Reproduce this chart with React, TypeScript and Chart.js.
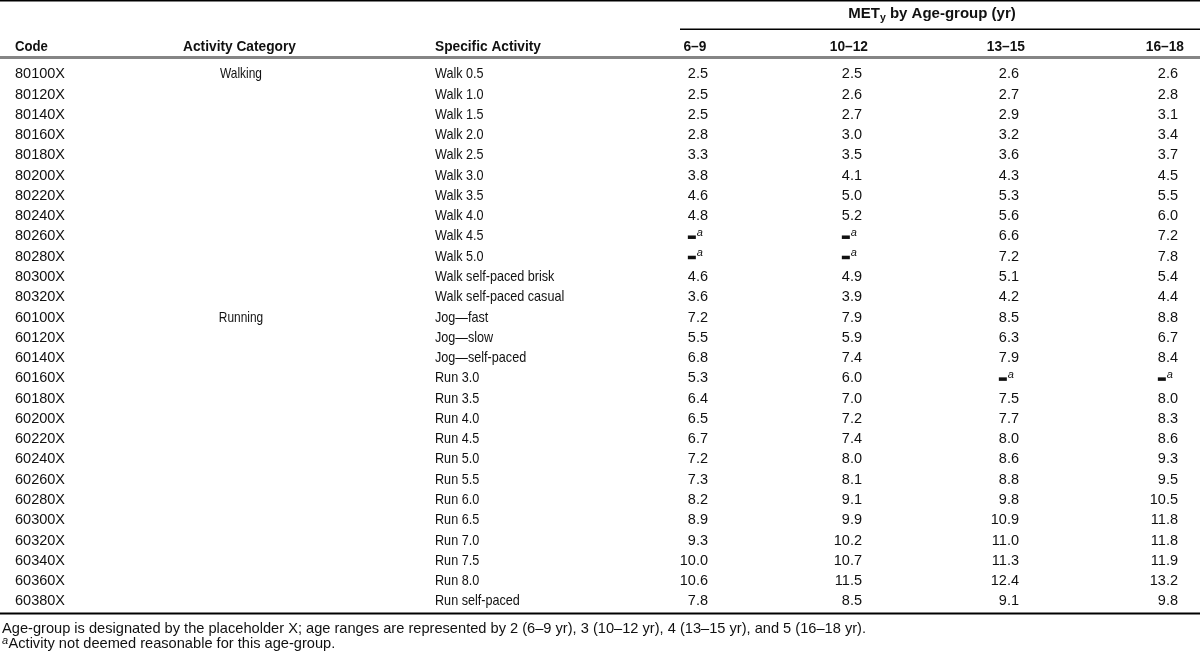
import { useEffect, useRef } from "react";
import { Chart, registerables } from "chart.js";

Chart.register(...registerables);

// ---- data ----
const codes = [
  "80100X", "80120X", "80140X", "80160X", "80180X", "80200X", "80220X", "80240X", "80260X",
  "80280X", "80300X", "80320X", "60100X", "60120X", "60140X", "60160X", "60180X", "60200X",
  "60220X", "60240X", "60260X", "60280X", "60300X", "60320X", "60340X", "60360X", "60380X",
];
const activityCategories = [
  "Walking", "", "", "", "", "", "", "", "", "", "", "",
  "Running", "", "", "", "", "", "", "", "", "", "", "", "", "", "",
];
const specificActivities = [
  "Walk 0.5", "Walk 1.0", "Walk 1.5", "Walk 2.0", "Walk 2.5", "Walk 3.0", "Walk 3.5", "Walk 4.0",
  "Walk 4.5", "Walk 5.0", "Walk self-paced brisk", "Walk self-paced casual", "Jog—fast", "Jog—slow",
  "Jog—self-paced", "Run 3.0", "Run 3.5", "Run 4.0", "Run 4.5", "Run 5.0", "Run 5.5", "Run 6.0",
  "Run 6.5", "Run 7.0", "Run 7.5", "Run 8.0", "Run self-paced",
];
const ageGroups = ["6–9", "10–12", "13–15", "16–18"];
const met6to9 = [2.5, 2.5, 2.5, 2.8, 3.3, 3.8, 4.6, 4.8, null, null, 4.6, 3.6, 7.2, 5.5, 6.8, 5.3, 6.4, 6.5, 6.7, 7.2, 7.3, 8.2, 8.9, 9.3, 10.0, 10.6, 7.8];
const met10to12 = [2.5, 2.6, 2.7, 3.0, 3.5, 4.1, 5.0, 5.2, null, null, 4.9, 3.9, 7.9, 5.9, 7.4, 6.0, 7.0, 7.2, 7.4, 8.0, 8.1, 9.1, 9.9, 10.2, 10.7, 11.5, 8.5];
const met13to15 = [2.6, 2.7, 2.9, 3.2, 3.6, 4.3, 5.3, 5.6, 6.6, 7.2, 5.1, 4.2, 8.5, 6.3, 7.9, null, 7.5, 7.7, 8.0, 8.6, 8.8, 9.8, 10.9, 11.0, 11.3, 12.4, 9.1];
const met16to18 = [2.6, 2.8, 3.1, 3.4, 3.7, 4.5, 5.5, 6.0, 7.2, 7.8, 5.4, 4.4, 8.8, 6.7, 8.4, null, 8.0, 8.3, 8.6, 9.3, 9.5, 10.5, 11.8, 11.8, 11.9, 13.2, 9.8];
const metSeries = [met6to9, met10to12, met13to15, met16to18];
const headerTexts = ["Code", "Activity Category", "Specific Activity"];
const spannerTitle = ["MET", "y", " by Age-group (yr)"];
const footnote1 = "Age-group is designated by the placeholder X; age ranges are represented by 2 (6–9 yr), 3 (10–12 yr), 4 (13–15 yr), and 5 (16–18 yr).";
const footnote2Mark = "a";
const footnote2 = "Activity not deemed reasonable for this age-group.";

// ---- layout (scale units: x = pixels, y = row index) ----
const ROW_TOP_PX = 73;
const ROW_PITCH = 20.27;
const Y_MIN = -ROW_TOP_PX / ROW_PITCH;
const Y_MAX = (661 - ROW_TOP_PX) / ROW_PITCH;
const rowOf = (px: number) => (px - ROW_TOP_PX) / ROW_PITCH;
const CODE_X = 15;
const CAT_X = 241;
const ACT_X = 435;
const VALUE_RIGHT = [708, 862, 1019, 1178];
const SPAN_LEFT = 680;
const SPAN_CENTER = 932;

const FONT = "'Liberation Sans', Arial, Helvetica, sans-serif";

function tablePlugin() {
  return {
    id: "tableText",
    beforeDraw(chart: any) {
      const { ctx, width, height } = chart;
      ctx.save();
      ctx.fillStyle = "#fff";
      ctx.fillRect(0, 0, width, height);
      ctx.restore();
    },
    afterDraw(chart: any) {
      const ctx: CanvasRenderingContext2D = chart.ctx;
      const xs = chart.scales.x;
      const ys = chart.scales.y;
      const X = (v: number) => xs.getPixelForValue(v);
      const Y = (v: number) => ys.getPixelForValue(v);
      ctx.save();
      ctx.fillStyle = "#111";
      ctx.textBaseline = "alphabetic";

      const measure = (s: string, font: string) => {
        ctx.font = font;
        return ctx.measureText(s).width;
      };
      // draws text squeezed/stretched horizontally by factor sq
      const text = (s: string, x: number, y: number, align: string, font: string, sq: number) => {
        ctx.font = font;
        const w = ctx.measureText(s).width * sq;
        let left = x;
        if (align === "right") left = x - w;
        else if (align === "center") left = x - w / 2;
        ctx.save();
        ctx.translate(left, y);
        ctx.scale(sq, 1);
        ctx.textAlign = "left";
        ctx.fillText(s, 0, 0);
        ctx.restore();
        return w;
      };
      const REG = `14.5px ${FONT}`;
      const BOLD = `bold 14px ${FONT}`;
      const SPAN_FONT = `bold 15px ${FONT}`;
      const SUP = `italic 11px ${FONT}`;
      const WORD_SQ = 0.87;
      const NUM_SQ = 1.0;
      const BOLD_SQ = 0.98;

      // rules
      const fullL = X(0), fullR = X(1200);
      ctx.fillStyle = "#000";
      ctx.fillRect(fullL, Y(rowOf(0)), fullR - fullL, 1.5);
      ctx.fillRect(X(SPAN_LEFT), Y(rowOf(28.5)), fullR - X(SPAN_LEFT), 1.5);
      ctx.fillStyle = "#858585";
      ctx.fillRect(fullL, Y(rowOf(56)), fullR - fullL, 3);
      ctx.fillStyle = "#000";
      ctx.fillRect(fullL, Y(rowOf(612.5)), fullR - fullL, 2);
      ctx.fillStyle = "#111";

      // spanner header
      const w1 = measure(spannerTitle[0], SPAN_FONT);
      const w2 = measure(spannerTitle[1], `bold 10.5px ${FONT}`);
      const w3 = measure(spannerTitle[2], SPAN_FONT);
      const spanBase = Y(rowOf(18));
      let sx = X(SPAN_CENTER) - (w1 + w2 + w3) / 2;
      text(spannerTitle[0], sx, spanBase, "left", SPAN_FONT, 1);
      sx += w1;
      text(spannerTitle[1], sx, spanBase + 3, "left", `bold 10.5px ${FONT}`, 1);
      sx += w2;
      text(spannerTitle[2], sx, spanBase, "left", SPAN_FONT, 1);

      // column headers
      const headBase = Y(rowOf(50.5));
      text(headerTexts[0], X(CODE_X), headBase, "left", BOLD, 0.94);
      text(headerTexts[1], X(CAT_X) - 1.5, headBase, "center", BOLD, BOLD_SQ);
      text(headerTexts[2], X(ACT_X), headBase, "left", BOLD, BOLD_SQ);
      const numW = measure("10.0", REG) * NUM_SQ;
      const oneW = measure("0.0", REG) * NUM_SQ;
      ageGroups.forEach((g, c) => {
        text(g, X(VALUE_RIGHT[c]) - numW / 2 + 1, headBase, "center", BOLD, BOLD_SQ);
      });

      // body rows
      codes.forEach((code, i) => {
        const base = Y(i) + 5.3;
        text(code, X(CODE_X), base, "left", REG, NUM_SQ);
        if (activityCategories[i]) text(activityCategories[i], X(CAT_X), base, "center", REG, 0.82);
        text(specificActivities[i], X(ACT_X), base, "left", REG, WORD_SQ);
      });

      // value cells from dataset elements
      chart.data.datasets.forEach((_ds: any, c: number) => {
        const meta = chart.getDatasetMeta(c);
        meta.data.forEach((pt: any, i: number) => {
          const v = metSeries[c][i];
          const base = pt.y + 5.3;
          if (v === null) {
            const left = pt.x - oneW;
            ctx.fillRect(left, base - 5, 8, 3.5);
            text("a", left + 9, base - 4.5, "left", SUP, 1);
          } else {
            text((v as number).toFixed(1), pt.x, base, "right", REG, NUM_SQ);
          }
        });
      });

      // footnotes
      const f1Base = Y(rowOf(633));
      const fw = measure(footnote1, REG);
      const fsq = 864 / fw;
      text(footnote1, X(2), f1Base, "left", REG, fsq);
      const f2Base = Y(rowOf(648));
      text(footnote2Mark, X(2), f2Base - 4.5, "left", SUP, 1);
      text(footnote2, X(8.5), f2Base, "left", REG, fsq);

      ctx.restore();
    },
  };
}

export default function App() {
  const ref = useRef<HTMLCanvasElement | null>(null);
  useEffect(() => {
    if (!ref.current) return;
    const chart = new Chart(ref.current, {
      type: "scatter",
      data: {
        datasets: metSeries.map((series, c) => ({
          label: ageGroups[c],
          data: series.map((_, i) => ({ x: VALUE_RIGHT[c], y: i })),
          pointRadius: 0,
          pointHoverRadius: 0,
          showLine: false,
        })),
      },
      options: {
        responsive: false,
        maintainAspectRatio: false,
        animation: false,
        events: [],
        layout: { padding: 0 },
        scales: {
          x: { type: "linear", min: 0, max: 1200, display: false },
          y: { type: "linear", min: Y_MIN, max: Y_MAX, reverse: true, display: false },
        },
        plugins: { legend: { display: false }, tooltip: { enabled: false } },
      },
      plugins: [tablePlugin()],
    });
    return () => chart.destroy();
  }, []);
  return (
    <div style={{ position: "absolute", left: 0, top: 0, width: 1200, height: 661, background: "#fff" }}>
      <canvas ref={ref} width={1200} height={661} style={{ display: "block" }} />
    </div>
  );
}
